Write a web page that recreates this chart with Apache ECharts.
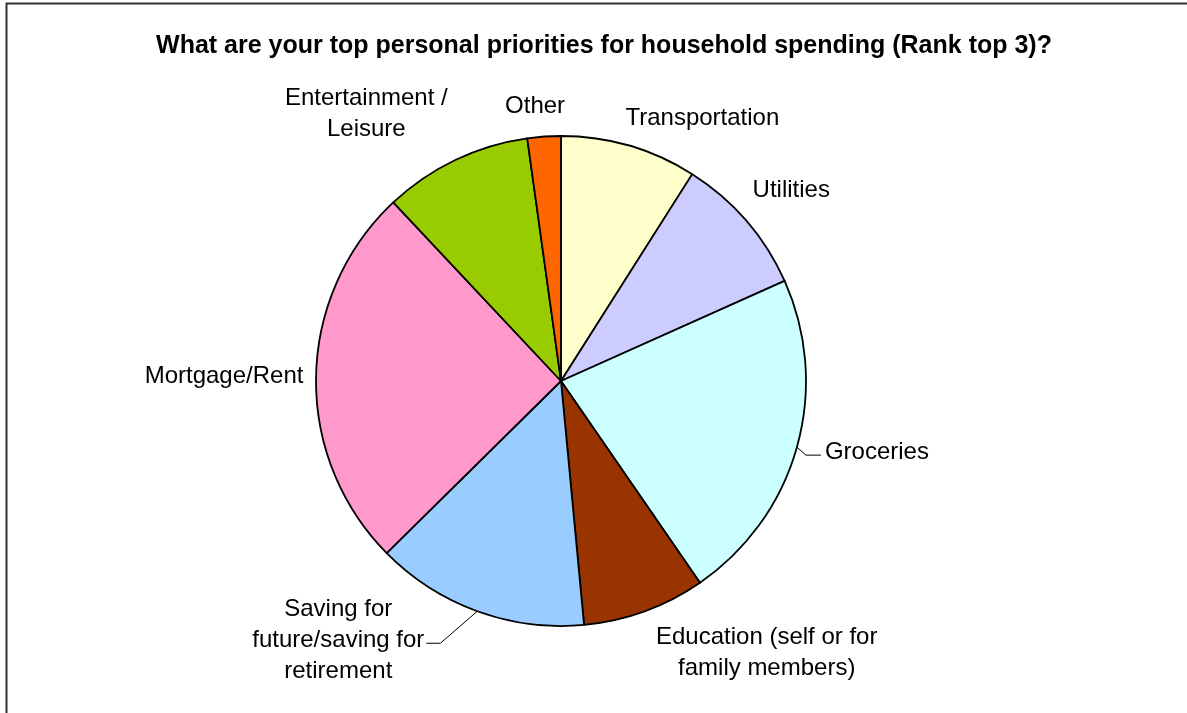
<!DOCTYPE html>
<html>
<head>
<meta charset="utf-8">
<script src="https://cdn.jsdelivr.net/npm/echarts@6/dist/echarts.min.js"></script>
<style>
html,body{margin:0;padding:0;background:#fff;}
#chart{width:1187px;height:713px;}
</style>
</head>
<body>
<div id="chart"></div>
<script>
// ---- data ----
const chartTitle = 'What are your top personal priorities for household spending (Rank top 3)?';
const categories = [
  'Transportation',
  'Utilities',
  'Groceries',
  'Education (self or for\nfamily members)',
  'Saving for\nfuture/saving for\nretirement',
  'Mortgage/Rent',
  'Entertainment /\nLeisure',
  'Other'
];
const values = [9.0, 9.3, 22.1, 8.1, 14.1, 25.4, 9.8, 2.2];
const colors = ['#FFFFCC', '#CCCCFF', '#CCFFFF', '#993300', '#99CCFF', '#FF99CC', '#99CC00', '#FF6600'];
const showGuide = [false, false, true, false, true, false, false, false];

// label offsets (label centre relative to slice edge point)
const labelOffsets = [[73, -27], [45, -30], [80, 5], [122, 42], [-139, 29], [-92, 0], [-89, -46], [-9, -30]];

const chart = echarts.init(document.getElementById('chart'), null, {renderer: 'canvas'});

const data = categories.map((c, i) => ({
  name: c,
  value: values[i],
  itemStyle: {color: colors[i]},
  labelLine: {lineStyle: {opacity: showGuide[i] ? 1 : 0}}
}));

chart.setOption({
  animation: false,
  backgroundColor: '#ffffff',
  title: {
    text: chartTitle,
    left: 599,
    top: 29,
    textAlign: 'center',
    textStyle: {fontFamily: 'Liberation Sans, Arial, sans-serif', fontSize: 25, fontWeight: 'bold', color: '#000'}
  },
  graphic: [{
    type: 'rect',
    shape: {x: 6.5, y: 3.5, width: 1400, height: 900},
    style: {fill: 'none', stroke: '#333', lineWidth: 2},
    silent: true,
    z: 100
  }],
  series: [{
    type: 'pie',
    center: [561, 381],
    radius: 245,
    startAngle: 90,
    clockwise: true,
    avoidLabelOverlap: false,
    itemStyle: {borderColor: '#000', borderWidth: 1.8},
    label: {
      show: true,
      position: 'outside',
      formatter: '{b}',
      fontFamily: 'Liberation Sans, Arial, sans-serif',
      fontSize: 24,
      lineHeight: 31,
      color: '#000'
    },
    labelLine: {show: true, length: 10, length2: 10, lineStyle: {color: '#000', width: 1}},
    labelLayout: function (p) {
      const i = p.dataIndex;
      const pts = p.labelLinePoints;
      const edge = pts[0];
      const off = labelOffsets[i];
      const cx = edge[0] + off[0];
      const cy = edge[1] + off[1];
      const w = p.labelRect.width;
      let line;
      if (showGuide[i]) {
        if (off[0] > 0) {
          const ex = cx - w / 2 - 4;
          line = [edge, [ex - 15, cy + 3], [ex, cy + 3]];
        } else {
          const ex = cx + w / 2 + 2;
          line = [edge, [ex + 14, cy + 3], [ex, cy + 3]];
        }
      } else {
        line = [edge, edge, edge];
      }
      return {x: cx, y: cy, align: 'center', verticalAlign: 'middle', labelLinePoints: line};
    },
    emphasis: {disabled: true},
    data: data
  }]
});
</script>
</body>
</html>
